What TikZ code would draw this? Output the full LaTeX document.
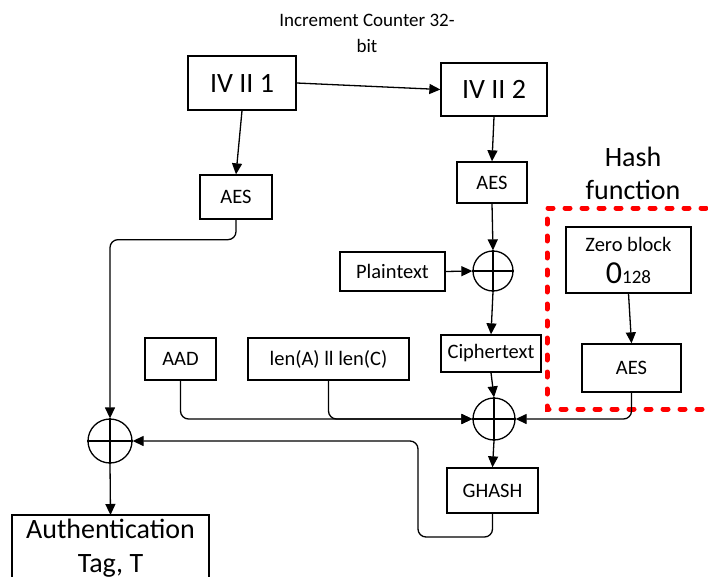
\documentclass[tikz,border=0pt]{standalone}
\usepackage{fontspec}
\setmainfont{Carlito}
\usetikzlibrary{arrows.meta}
\begin{document}
\begin{tikzpicture}[x=1pt,y=-1pt,
  line width=1.3pt,
  box/.style={draw,inner sep=0pt,font=\fontsize{20.5}{24}\selectfont},
  bigbox/.style={draw,inner sep=0pt,font=\fontsize{28}{33}\selectfont},
  xorc/.style={draw,circle,inner sep=0pt,minimum size=#1},
  arr/.style={-{Triangle[length=11pt,width=10pt]}},
  conn/.style={arr,rounded corners=8pt},
  hashbox/.style={draw=red,line width=5pt,line cap=round,dash pattern=on 5pt off 12pt}
]
\useasboundingbox (0,0) rectangle (708,577);
% title
\node[align=center,font=\fontsize{19}{26}\selectfont] (title) at (367,33) {Increment Counter 32-\\bit};
% boxes
\node[bigbox,minimum width=108pt,minimum height=54pt] (iv1) at (242,83) {IV II 1};
\node[bigbox,minimum width=106pt,minimum height=53pt] (iv2) at (494,89.5) {IV II 2};
\node[box,minimum width=72pt,minimum height=44pt] (aes1) at (236,197) {AES};
\node[box,minimum width=70pt,minimum height=41pt] (aes2) at (492,182.5) {AES};
\node[box,minimum width=105pt,minimum height=39pt] (plain) at (392.5,271.5) {Plaintext};
\node[box,minimum width=100pt,minimum height=37pt] (cipher) at (491,353.5) {Ciphertext};
\node[draw,inner sep=0pt,minimum width=125pt,minimum height=66pt,align=center,
  font=\fontsize{20.5}{32}\selectfont] (zero) at (628.5,260)
  {Zero block\\{\fontsize{32}{32}\selectfont 0}{\fontsize{19}{20}\selectfont 128}};
\node[box,minimum width=99pt,minimum height=48pt] (aes3) at (631.5,368) {AES};
\node[box,minimum width=71pt,minimum height=42pt] (aad) at (180.5,359) {AAD};
\node[box,minimum width=161pt,minimum height=42pt] (len) at (328.5,359) {len(A) ll len(C)};
\node[box,minimum width=91pt,minimum height=45pt] (ghash) at (492.5,490.5) {GHASH};
\draw (12,600) rectangle (209,515);
\node[align=center,font=\fontsize{28}{34}\selectfont,inner sep=0pt] (authtext) at (110.5,548) {Authentication\\Tag, T};
\coordinate (auth) at (110.5,515);
% hash function
\node[align=center,font=\fontsize{28}{33}\selectfont] (hashlbl) at (633,173) {Hash\\function};
\draw[hashbox] (740,208) -- (547,208) -- (547,409) -- (740,409);
% xor circles
\node[xorc=40pt] (x1) at (493,271) {};
\node[xorc=42pt] (x2) at (494,419) {};
\node[xorc=44pt] (x3) at (110,441) {};
\foreach \c in {x1,x2,x3} {
  \draw (\c.north) -- (\c.south);
  \draw (\c.west) -- (\c.east);
}
% connectors
\draw[arr] (iv1.east) -- (iv2.west);
\draw[arr] (iv1.south) -- (aes1.north);
\draw[arr] (iv2.south) -- (aes2.north);
\draw[arr] (aes2.south) -- (x1.north);
\draw[arr] (plain.east) -- (x1.west);
\draw[arr] (x1.south) -- (cipher.north);
\draw[arr] (zero.south) -- (aes3.north);
\draw[arr] (cipher.south) -- (x2.north);
\draw[conn] (aad.south) |- (x2.west);
\draw[conn] (len.south) |- (x2.west);
\draw[conn] (aes3.south) |- (x2.east);
\draw[arr] (x2.south) -- (ghash.north);
\coordinate (g1) at (418,537);
\draw[conn] (ghash.south) |- (g1) |- (x3.east);
\draw[conn] (aes1.south) -- ++(0,20) -| (x3.north);
\draw[arr] (x3.south) -- (auth);
\end{tikzpicture}
\end{document}
